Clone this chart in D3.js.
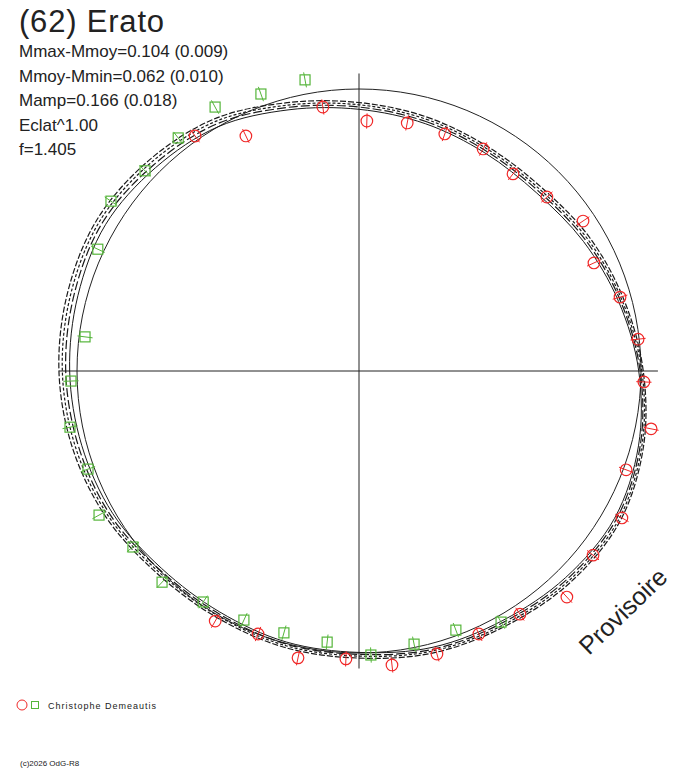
<!DOCTYPE html>
<html>
<head>
<meta charset="utf-8">
<script src="https://cdn.jsdelivr.net/npm/d3@7"></script>
<style>
  body { margin: 0; background: #fff; }
  text { font-family: "Liberation Sans", Arial, sans-serif; fill: #222; }
</style>
</head>
<body>
<script>
// title and statistics
const title = "(62) Erato";
const stats = ["Mmax-Mmoy=0.104 (0.009)", "Mmoy-Mmin=0.062 (0.010)", "Mamp=0.166 (0.018)", "Eclat^1.00", "f=1.405"];
const observer = "Christophe Demeautis";

// model curves: phase angle (deg) and radius (1 = reference circle)
const curveAngles = [0, 15, 30, 45, 60, 75, 90, 105, 120, 135, 150, 165, 180, 195, 210, 225, 240, 255, 270, 285, 300, 315, 330, 345];
const curveSolid = [0.928, 0.908, 0.893, 0.892, 0.919, 0.953, 0.992, 1.026, 1.046, 1.036, 1.021, 1.014, 0.998, 0.995, 0.987, 0.990, 1.009, 1.018, 1.026, 1.032, 1.038, 1.020, 1.000, 0.959];
const curveDashA = [0.936, 0.916, 0.901, 0.901, 0.928, 0.960, 0.997, 1.032, 1.053, 1.044, 1.028, 1.021, 1.005, 1.002, 0.994, 0.998, 1.019, 1.030, 1.040, 1.046, 1.051, 1.032, 1.011, 0.968];
const curveDashB = [0.944, 0.924, 0.909, 0.909, 0.936, 0.966, 1.003, 1.038, 1.061, 1.052, 1.036, 1.027, 1.011, 1.008, 1.002, 1.006, 1.027, 1.041, 1.052, 1.058, 1.062, 1.044, 1.021, 0.976];
const curveDashC = [0.952, 0.932, 0.917, 0.918, 0.945, 0.973, 1.008, 1.044, 1.068, 1.060, 1.043, 1.034, 1.018, 1.015, 1.009, 1.014, 1.036, 1.052, 1.064, 1.070, 1.073, 1.055, 1.031, 0.985];

// observations, session 1 (red circles)
const redAngle = [1.8, 11.0, 19.9, 29.2, 38.0, 47.2, 56.2, 65.3, 74.2, 83.5, 92.2, 101.2, 110.3, 119.2, 128.2, 137.4, 146.5, 155.5, 164.6, 173.6, 182.6, 192.0, 201.0, 209.9, 325.1, 334.3, 352.2];
const redR = [0.887, 0.896, 0.894, 0.902, 0.887, 0.908, 0.956, 0.917, 0.962, 0.996, 1.011, 1.056, 1.010, 1.068, 1.056, 1.089, 1.034, 1.025, 1.041, 1.049, 1.022, 1.040, 0.999, 1.023, 1.016, 0.925, 0.945];
// observations, session 2 (green squares)
const greenAngle = [150.5, 159.5, 168.6, 177.6, 186.7, 196.0, 204.8, 214.0, 223.0, 232.1, 241.0, 250.1, 259.0, 268.0, 277.1, 295.0, 304.4, 313.1, 322.2, 331.4, 340.5, 349.5];
const greenR = [1.023, 0.981, 0.988, 1.008, 0.968, 0.966, 0.973, 0.988, 1.024, 1.016, 1.054, 1.022, 1.044, 1.022, 0.979, 1.022, 1.066, 1.039, 1.046, 1.066, 1.042, 1.050];
const errR = 0.027;

const width = 688, height = 768;
const cx = 359, cy = 371;

const svg = d3.select("body").append("svg")
  .attr("width", width)
  .attr("height", height);

svg.append("rect").attr("width", width).attr("height", height).attr("fill", "#fff");

const r = d3.scaleLinear().domain([0, 1]).range([0, 282]);
const ang = d3.scaleLinear().domain([0, 360]).range([0, 2 * Math.PI]);

const plot = svg.append("g").attr("transform", `translate(${cx},${cy})`);

// axes
plot.append("line").attr("x1", -r(1.063)).attr("x2", r(1.06)).attr("y1", 0).attr("y2", 0)
  .attr("stroke", "#222").attr("stroke-width", 1);
plot.append("line").attr("y1", -r(1.055)).attr("y2", r(1.055)).attr("x1", 0).attr("x2", 0)
  .attr("stroke", "#222").attr("stroke-width", 1);

// reference circle
plot.append("circle").attr("r", r(1)).attr("fill", "none").attr("stroke", "#222").attr("stroke-width", 1);

// model curves
const radial = d3.lineRadial()
  .angle(d => ang(d[0]))
  .radius(d => r(d[1]))
  .curve(d3.curveCardinalClosed);

const curves = [
  { vals: curveDashC, dash: "6,2" },
  { vals: curveDashB, dash: "3,2" },
  { vals: curveDashA, dash: "9,3" },
  { vals: curveSolid, dash: null }
];

curves.forEach(c => {
  plot.append("path")
    .attr("d", radial(curveAngles.map((a, i) => [a, c.vals[i]])))
    .attr("fill", "none")
    .attr("stroke", "#1a1a1a")
    .attr("stroke-width", c.dash ? 1.2 : 1)
    .attr("stroke-dasharray", c.dash);
});

// error bars + markers
function bars(angles, radii, color) {
  plot.selectAll(null)
    .data(angles.map((a, i) => [a, radii[i]]))
    .enter().append("line")
    .each(function (d) {
      const p0 = d3.pointRadial(ang(d[0]), r(d[1] - errR));
      const p1 = d3.pointRadial(ang(d[0]), r(d[1] + errR));
      d3.select(this).attr("x1", p0[0]).attr("y1", p0[1]).attr("x2", p1[0]).attr("y2", p1[1]);
    })
    .attr("stroke", color)
    .attr("stroke-width", 1);
}

bars(greenAngle, greenR, "#55b53a");
plot.selectAll(null)
  .data(greenAngle.map((a, i) => d3.pointRadial(ang(a), r(greenR[i]))))
  .enter().append("rect")
  .attr("x", d => d[0] - 5)
  .attr("y", d => d[1] - 5)
  .attr("width", 10)
  .attr("height", 10)
  .attr("fill", "none")
  .attr("stroke", "#55b53a")
  .attr("stroke-width", 1.2);

bars(redAngle, redR, "#f02828");
plot.selectAll(null)
  .data(redAngle.map((a, i) => d3.pointRadial(ang(a), r(redR[i]))))
  .enter().append("circle")
  .attr("cx", d => d[0])
  .attr("cy", d => d[1])
  .attr("r", 5.8)
  .attr("fill", "none")
  .attr("stroke", "#f02828")
  .attr("stroke-width", 1.2);

// texts
svg.append("text").attr("x", 19).attr("y", 32).attr("font-size", 31)
  .attr("letter-spacing", 0.8).text(title);

svg.selectAll(".stat")
  .data(stats)
  .enter().append("text")
  .attr("class", "stat")
  .attr("x", 19)
  .attr("y", (d, i) => 57 + i * 24.6)
  .attr("font-size", 17)
  .text(d => d);

svg.append("text")
  .attr("transform", "translate(589,656) rotate(-44)")
  .attr("font-size", 25)
  .text("Provisoire");

// legend
svg.append("circle").attr("cx", 22).attr("cy", 705).attr("r", 5)
  .attr("fill", "none").attr("stroke", "#f02828").attr("stroke-width", 1);
svg.append("rect").attr("x", 31.5).attr("y", 701.5).attr("width", 7).attr("height", 7)
  .attr("fill", "none").attr("stroke", "#55b53a").attr("stroke-width", 1);
svg.append("text").attr("x", 48).attr("y", 709).attr("font-size", 9)
  .attr("letter-spacing", 1).text(observer);

svg.append("text").attr("x", 20).attr("y", 766).attr("font-size", 8)
  .text("(c)2026 OdG-R8");
</script>
</body>
</html>
